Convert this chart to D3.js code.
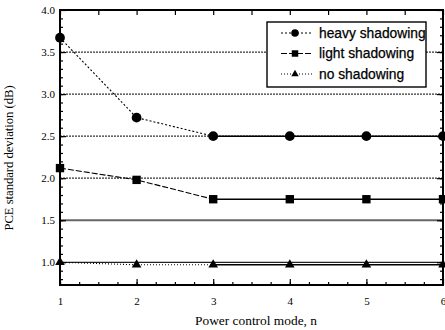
<!DOCTYPE html>
<html>
<head>
<meta charset="utf-8">
<script src="https://cdn.jsdelivr.net/npm/d3@7"></script>
<style>
  body { margin: 0; background: #fff; }
  svg { display: block; }
</style>
</head>
<body>
<div id="chart"></div>
<script>
// data
var modes = [1, 2, 3, 4, 5, 6]
var heavy = [3.67, 2.72, 2.5, 2.5, 2.5, 2.5]
var light = [2.12, 1.98, 1.75, 1.75, 1.75, 1.75]
var noShadow = [1.0, 0.97, 0.97, 0.97, 0.97, 0.97]
var seriesNames = ["heavy shadowing", "light shadowing", "no shadowing"]
var yTicks = [1.0, 1.5, 2.0, 2.5, 3.0, 3.5, 4.0]
var gridDotted = [2.0, 2.5, 3.0, 3.5]
var gridSolid = [1.0, 1.5]

var W = 445, H = 330
var margin = {top: 10, right: 2, bottom: 45, left: 60}
var width = W - margin.left - margin.right,
    height = H - margin.top - margin.bottom

var svg = d3.select("#chart").append("svg")
    .attr("width", W).attr("height", H)
  .append("g")
    .attr("transform", "translate(" + margin.left + "," + margin.top + ")")

var x = d3.scaleLinear().domain([1, 6]).range([0, width])
var y = d3.scaleLinear().domain([0.73, 4.0]).range([height, 0])

// grid lines
svg.selectAll(".gd").data(gridDotted).enter().append("line")
  .attr("x1", 0).attr("x2", width)
  .attr("y1", d => y(d)).attr("y2", d => y(d))
  .attr("stroke", "#333").attr("stroke-width", 1.3)
  .attr("stroke-dasharray", "2,1")
svg.selectAll(".gs").data(gridSolid).enter().append("line")
  .attr("x1", 0).attr("x2", width)
  .attr("y1", d => y(d)).attr("y2", d => y(d))
  .attr("stroke", (d, i) => i == 0 ? "#222" : "#666")
  .attr("stroke-width", (d, i) => i == 0 ? 1.2 : 2.2)

// axes
var serif = "'Liberation Serif', 'DejaVu Serif', serif"
function styleAxis(g) {
  g.select(".domain").remove()
  g.selectAll("line").attr("stroke", "#000").attr("stroke-width", 1.2)
  g.selectAll("text").attr("font-family", serif).attr("font-size", 11).attr("fill", "#000")
}

// minor ticks
svg.append("g").call(d3.axisLeft(y).tickValues(d3.range(0.8, 4.0, 0.1)).tickSize(-3).tickFormat(""))
  .call(styleAxis)
svg.append("g").attr("transform", "translate(" + width + ",0)")
  .call(d3.axisRight(y).tickValues(d3.range(0.8, 4.0, 0.1)).tickSize(-3).tickFormat(""))
  .call(styleAxis)
svg.append("g").attr("transform", "translate(0," + height + ")")
  .call(d3.axisBottom(x).tickValues(d3.range(1, 6, 0.25)).tickSize(-3).tickFormat(""))
  .call(styleAxis)

// major ticks
svg.append("g").call(d3.axisLeft(y).tickValues(yTicks).tickSize(-6).tickPadding(5).tickFormat(d3.format(".1f")))
  .call(styleAxis)
svg.append("g").attr("transform", "translate(" + width + ",0)")
  .call(d3.axisRight(y).tickValues(yTicks).tickSize(-6).tickFormat(""))
  .call(styleAxis)
svg.append("g").attr("transform", "translate(0," + height + ")")
  .call(d3.axisBottom(x).tickValues(modes).tickSize(-6).tickPadding(12).tickFormat(d3.format("d")))
  .call(styleAxis)
svg.append("g")
  .call(d3.axisTop(x).tickValues(d3.range(1, 6.01, 0.5)).tickSize(-5).tickFormat(""))
  .call(styleAxis)

// frame
svg.append("rect").attr("x", 0).attr("y", 0).attr("width", width).attr("height", height)
  .attr("fill", "none").attr("stroke", "#000").attr("stroke-width", 2)

// series
var series = [
  {name: seriesNames[0], values: heavy, dash: "2,2", shape: d3.symbolCircle, size: 75},
  {name: seriesNames[1], values: light, dash: "6,2", shape: d3.symbolSquare, size: 70},
  {name: seriesNames[2], values: noShadow, dash: "1,2", shape: d3.symbolTriangle, size: 40}
]

var line = d3.line().x(d => x(d[0])).y(d => y(d[1]))

series.forEach(function(s) {
  var pts = modes.map((m, i) => [m, s.values[i]])
  // sloped part drawn broken, flat part solid as in the figure
  svg.append("path").datum(pts.slice(0, 3)).attr("d", line)
    .attr("fill", "none").attr("stroke", "#000").attr("stroke-width", 1.1)
    .attr("stroke-dasharray", s.dash)
  svg.append("path").datum(pts.slice(2)).attr("d", line)
    .attr("fill", "none").attr("stroke", "#000").attr("stroke-width", 1.5)
  svg.selectAll(null).data(pts).enter().append("path")
    .attr("d", d3.symbol().type(s.shape).size(s.size))
    .attr("transform", d => "translate(" + x(d[0]) + "," + y(d[1]) + ")")
    .attr("fill", "#000")
})

// legend
var lg = svg.append("g").attr("transform", "translate(" + (267 - margin.left) + "," + (22 - margin.top) + ")")
lg.append("rect").attr("width", 159).attr("height", 65)
  .attr("fill", "#fff").attr("stroke", "#000").attr("stroke-width", 1.4)
series.forEach(function(s, i) {
  var row = lg.append("g").attr("transform", "translate(0," + (11 + i * 20.5) + ")")
  row.append("line").attr("x1", 14).attr("x2", 46).attr("y1", 0).attr("y2", 0)
    .attr("stroke", "#000").attr("stroke-width", 1).attr("stroke-dasharray", s.dash)
  row.append("path").attr("d", d3.symbol().type(s.shape).size(s.size * 0.6))
    .attr("transform", "translate(28,0)").attr("fill", "#000")
  row.append("text").attr("x", 52).attr("y", 0).attr("dy", "0.35em")
    .attr("font-family", "'Liberation Sans', Arial, sans-serif").attr("font-size", 13.8)
    .attr("stroke", "#000").attr("stroke-width", 0.25)
    .text(s.name)
})

// axis titles
svg.append("text").attr("x", 256 - margin.left).attr("y", height + 40)
  .attr("text-anchor", "middle").attr("font-family", serif).attr("font-size", 13.4)
  .text("Power control mode, n")
svg.append("text").attr("transform", "translate(" + (-47) + "," + (158 - margin.top) + ") rotate(-90)")
  .attr("text-anchor", "middle").attr("font-family", serif).attr("font-size", 12.6)
  .text("PCE standard deviation (dB)")
</script>
</body>
</html>
